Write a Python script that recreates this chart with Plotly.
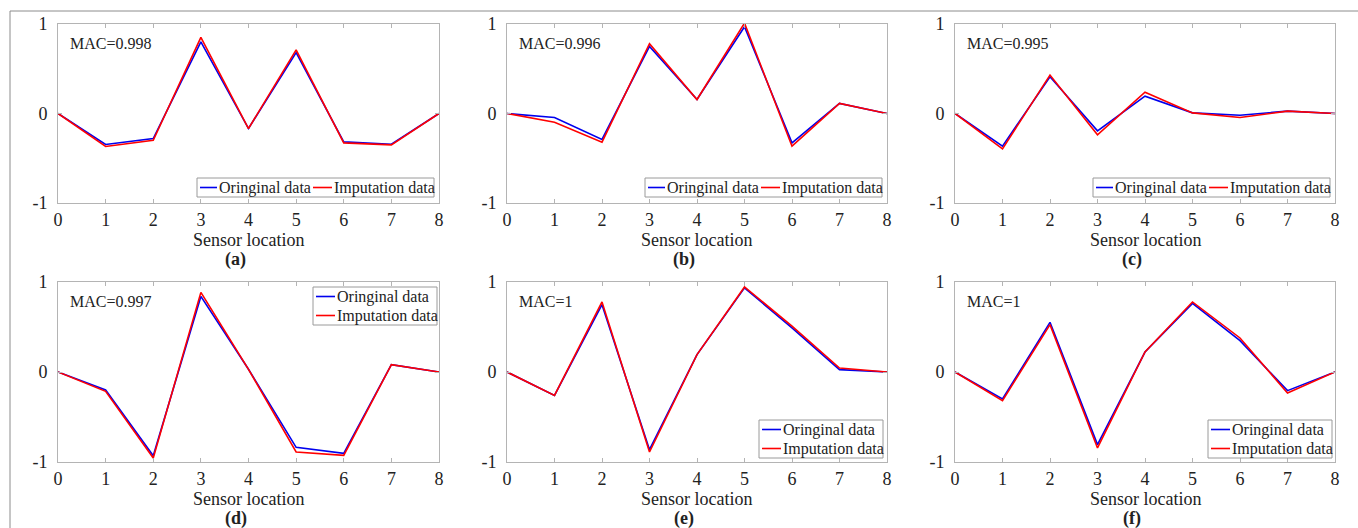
import plotly.graph_objects as go

W, H = 1358, 528

sensor_locations = [0, 1, 2, 3, 4, 5, 6, 7, 8]

# Panel (a)
orig_a = [0, -0.346, -0.28, 0.80, -0.168, 0.68, -0.317, -0.343, 0]
imp_a = [0, -0.369, -0.30, 0.85, -0.168, 0.71, -0.328, -0.350, 0]
# Panel (b)
orig_b = [0, -0.045, -0.29, 0.75, 0.156, 0.97, -0.328, 0.112, 0]
imp_b = [0, -0.097, -0.32, 0.78, 0.156, 1.01, -0.365, 0.112, 0]
# Panel (c)
orig_c = [0, -0.365, 0.41, -0.194, 0.194, 0.007, -0.019, 0.026, 0]
imp_c = [0, -0.395, 0.43, -0.238, 0.238, 0.007, -0.045, 0.026, 0]
# Panel (d)
orig_d = [0, -0.20, -0.93, 0.84, 0.03, -0.837, -0.904, 0.081, 0]
imp_d = [0, -0.215, -0.955, 0.885, 0.03, -0.889, -0.926, 0.081, 0]
# Panel (e)
orig_e = [0, -0.26, 0.748, -0.863, 0.193, 0.935, 0.49, 0.026, 0]
imp_e = [0, -0.26, 0.778, -0.889, 0.193, 0.945, 0.51, 0.044, 0]
# Panel (f)
orig_f = [0, -0.30, 0.552, -0.807, 0.222, 0.763, 0.348, -0.207, 0]
imp_f = [0, -0.318, 0.526, -0.844, 0.222, 0.778, 0.378, -0.233, 0]

mac_labels = ["MAC=0.998", "MAC=0.996", "MAC=0.995", "MAC=0.997", "MAC=1", "MAC=1"]
panel_labels = ["(a)", "(b)", "(c)", "(d)", "(e)", "(f)"]
xtick_vals = [0, 1, 2, 3, 4, 5, 6, 7, 8]
ytick_vals = [-1, 0, 1]
ytick_text = ["-1", "0", "1"]
x_title = "Sensor location"
series_names = ["Oringinal data", "Imputation data"]

originals = [orig_a, orig_b, orig_c, orig_d, orig_e, orig_f]
imputations = [imp_a, imp_b, imp_c, imp_d, imp_e, imp_f]

FONT = "Liberation Serif"
TXT = "#222222"
AXIS_GRAY = "#b4b4b4"
BLUE = "#0000ee"
RED = "#ff0000"
LW = 1.6

# pixel layout of the plot areas
x_px = [(58, 439), (507, 887), (955, 1335)]
y_px = [(24, 203), (282, 462)]
label_offset = [56, 56]


def px(x):
    return x / W


def py(y):
    return 1 - y / H


fig = go.Figure()
layout = dict(
    width=W, height=H,
    margin=dict(l=0, r=0, t=0, b=0, pad=0),
    paper_bgcolor="white", plot_bgcolor="white",
    font=dict(family=FONT, size=18, color=TXT),
    showlegend=False,
)
annotations = []
shapes = []

# legend boxes (pixels): (left, top, orientation)
legend_boxes = [
    (197, 178, "h"),
    (645, 178, "h"),
    (1093, 178, "h"),
    (313, 287, "v"),
    (759, 420, "v"),
    (1208, 420, "v"),
]


def add_legend(left, top, orient):
    colors = [BLUE, RED]
    if orient == "h":
        w, h = 237, 19
        items = [(left + 3, left + 20, top + h / 2, left + 21),
                 (left + 116, left + 135, top + h / 2, left + 136)]
    else:
        w, h = 124, 38
        items = [(left + 3, left + 22, top + 9.5, left + 23),
                 (left + 3, left + 22, top + 28.5, left + 23)]
    shapes.append(dict(type="rect", xref="paper", yref="paper",
                       x0=px(left), x1=px(left + w), y0=py(top + h), y1=py(top),
                       fillcolor="white", line=dict(color="#9a9a9a", width=1),
                       layer="above"))
    for (lx0, lx1, ly, tx), col, name in zip(items, colors, series_names):
        shapes.append(dict(type="line", xref="paper", yref="paper",
                           x0=px(lx0), x1=px(lx1), y0=py(ly), y1=py(ly),
                           line=dict(color=col, width=LW), layer="above"))
        annotations.append(dict(text=name, xref="paper", yref="paper",
                                x=px(tx), y=py(ly), xanchor="left", yanchor="middle",
                                showarrow=False, borderpad=0,
                                font=dict(family=FONT, size=16, color=TXT)))


for i in range(6):
    r, c = divmod(i, 3)
    n = i + 1
    xa = "x" if n == 1 else f"x{n}"
    ya = "y" if n == 1 else f"y{n}"
    x0p, x1p = x_px[c]
    y0p, y1p = y_px[r]
    xdom = [px(x0p), px(x1p)]
    ydom = [py(y1p), py(y0p)]
    axis_common = dict(
        showline=True, linecolor=AXIS_GRAY, linewidth=1, mirror="allticks",
        ticks="inside", ticklen=4, tickcolor=AXIS_GRAY, tickwidth=1,
        showgrid=False, zeroline=False, automargin=False,
        tickfont=dict(family=FONT, size=18, color=TXT),
    )
    layout["xaxis" if n == 1 else f"xaxis{n}"] = dict(
        domain=xdom, range=[0, 8], tickvals=xtick_vals,
        anchor=ya, **axis_common,
    )
    layout["yaxis" if n == 1 else f"yaxis{n}"] = dict(
        domain=ydom, range=[-1, 1], tickvals=ytick_vals, ticktext=ytick_text,
        anchor=xa, ticklabelstandoff=6, **axis_common,
    )
    fig.add_trace(go.Scatter(
        x=sensor_locations, y=originals[i], mode="lines", name=series_names[0],
        line=dict(color=BLUE, width=LW), xaxis=xa, yaxis=ya,
    ))
    fig.add_trace(go.Scatter(
        x=sensor_locations, y=imputations[i], mode="lines", name=series_names[1],
        line=dict(color=RED, width=LW), xaxis=xa, yaxis=ya,
    ))
    add_legend(*legend_boxes[i])
    # MAC text
    annotations.append(dict(
        text=mac_labels[i], xref=f"{xa} domain", yref=f"{ya} domain",
        x=0.026, y=0.89, xanchor="left", yanchor="middle", showarrow=False,
        font=dict(family=FONT, size=16, color=TXT),
    ))
    cx = (x0p + x1p) / 2
    annotations.append(dict(
        text=x_title, xref="paper", yref="paper",
        x=px(cx), y=py(y1p + 37), xanchor="center", yanchor="middle",
        showarrow=False, font=dict(family=FONT, size=18, color=TXT),
    ))
    annotations.append(dict(
        text=f"<b>{panel_labels[i]}</b>", xref="paper", yref="paper",
        x=px(cx - 13), y=py(y1p + label_offset[r]), xanchor="center", yanchor="middle",
        showarrow=False, font=dict(family=FONT, size=18, color=TXT),
    ))

# outer frame lines
shapes.append(dict(type="line", xref="paper", yref="paper",
                   x0=px(10), x1=1.0, y0=py(11), y1=py(11),
                   line=dict(color="#8c8c8c", width=1)))
shapes.append(dict(type="line", xref="paper", yref="paper",
                   x0=px(10), x1=px(10), y0=0, y1=py(11),
                   line=dict(color="#8c8c8c", width=1)))

layout["annotations"] = annotations
layout["shapes"] = shapes
fig.update_layout(**layout)
fig.write_html("out.html",
               post_script="document.body.style.margin='0';document.body.style.padding='0';")
